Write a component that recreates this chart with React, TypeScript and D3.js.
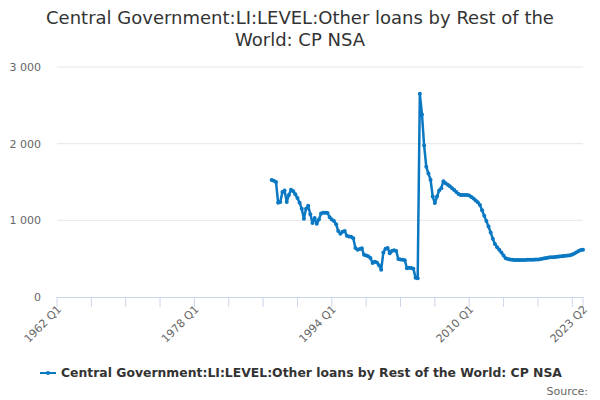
import * as d3 from "d3";
import React from "react";

// quarterly series, starting 1987 Q1
const startYear = 1987;
const values = [
  1526, 1515, 1500, 1230,
  1240, 1370, 1390, 1240,
  1330, 1400, 1380, 1340,
  1290, 1230, 1150, 1020,
  1150, 1190, 1080, 965,
  1030, 955, 1010, 1090,
  1100, 1100, 1095, 1040,
  1010, 990, 950, 860,
  825, 850, 860, 800,
  790, 785, 765, 640,
  615, 625, 635, 550,
  540, 530, 510, 445,
  460, 450, 415, 355,
  580, 630, 640, 570,
  600, 610, 600, 495,
  490, 485, 480, 375,
  380, 378, 370, 250,
  245, 2650, 2380, 1975,
  1700, 1610, 1530, 1310,
  1225, 1310, 1390, 1420,
  1510, 1485, 1465, 1445,
  1420, 1395, 1370, 1345,
  1330, 1330, 1330, 1330,
  1325, 1305, 1285, 1260,
  1235, 1200, 1130, 1060,
  990, 920, 840, 760,
  690, 650, 615, 580,
  540, 505, 495, 488,
  485, 483, 483, 483,
  483, 484, 484, 485,
  485, 486, 487, 488,
  490, 493, 500, 505,
  510, 514, 518, 520,
  523, 526, 528, 531,
  534, 537, 540, 545,
  555, 568, 585, 600,
  612, 615,
];

const axisStart = "1962 Q1";
const axisEnd = "2023 Q2";
const xLabels = ["1962 Q1", "1978 Q1", "1994 Q1", "2010 Q1", "2023 Q2"];
const yTicks = [0, 1000, 2000, 3000];

const titleLines = ["Central Government:LI:LEVEL:Other loans by Rest of the", "World: CP NSA"];
const seriesName = "Central Government:LI:LEVEL:Other loans by Rest of the World: CP NSA";

const qIndex = (label: string) => {
  const [y, q] = label.split(" Q");
  return +y * 4 + (+q - 1);
};

const periods = values.map((_, i) => {
  const y = startYear + Math.floor(i / 4);
  return `${y} Q${(i % 4) + 1}`;
});

const width = 600;
const height = 400;
const margin = { top: 67, right: 17, bottom: 103, left: 57 };
const font = "'DejaVu Sans', Verdana, sans-serif";
const color = "#0a78c2";

export default function App() {
  const x = d3
    .scaleLinear()
    .domain([qIndex(axisStart), qIndex(axisEnd)])
    .range([margin.left, width - margin.right]);
  const y = d3.scaleLinear().domain([0, 3000]).range([height - margin.bottom, margin.top]);

  const data = values.map((v, i) => ({ q: qIndex(periods[i]), v }));
  const line = d3
    .line<{ q: number; v: number }>()
    .x((d) => x(d.q))
    .y((d) => y(d.v));

  const minorTicks = d3.range(qIndex(axisStart), qIndex(axisEnd) + 1, 16).concat([qIndex(axisEnd)]);
  const fmt = (v: number) => d3.format(",")(v).replace(/,/g, " ");
  const y0 = y(0);

  return (
    <svg
      width={width}
      height={height}
      style={{ position: "absolute", left: 0, top: 0, fontFamily: font, background: "#fff" }}
    >
      <text textAnchor="middle" fill="#333" fontSize={18}>
        {titleLines.map((t, i) => (
          <tspan key={i} x={width / 2} y={24 + i * 22}>
            {t}
          </tspan>
        ))}
      </text>

      {/* grid + y labels */}
      {yTicks.map((t) => (
        <g key={t}>
          {t > 0 && (
            <line x1={margin.left} x2={width - margin.right} y1={y(t)} y2={y(t)} stroke="#e6e6e6" />
          )}
          <text x={41} y={y(t)} dy="0.35em" textAnchor="end" fontSize={11} fill="#666">
            {fmt(t)}
          </text>
        </g>
      ))}

      {/* x axis */}
      <line x1={margin.left} x2={width - margin.right} y1={y0 + 0.5} y2={y0 + 0.5} stroke="#ccd6eb" />
      {minorTicks.map((t, i) => (
        <line key={i} x1={x(t)} x2={x(t)} y1={y0} y2={y0 + 10} stroke="#ccd6eb" />
      ))}
      {xLabels.map((l) => (
        <text
          key={l}
          transform={`translate(${x(qIndex(l)) + 5},${y0 + 13}) rotate(-45)`}
          textAnchor="end"
          fontSize={11}
          fill="#666"
        >
          {l}
        </text>
      ))}

      {/* series */}
      <path d={line(data) ?? ""} fill="none" stroke={color} strokeWidth={2.5} strokeLinejoin="round" />
      {data.map((d, i) => (
        <circle key={i} cx={x(d.q)} cy={y(d.v)} r={2} fill={color} />
      ))}

      {/* legend */}
      <g transform="translate(40,373)">
        <line x1={0} x2={16} y1={0} y2={0} stroke={color} strokeWidth={2} />
        <circle cx={8} cy={0} r={2} fill={color} />
        <text x={21} y={0} dy="0.35em" fontSize={12.4} fontWeight="bold" fill="#333">
          {seriesName}
        </text>
      </g>

      <text x={588} y={395} textAnchor="end" fontSize={11} fill="#666">
        Source:
      </text>
    </svg>
  );
}
